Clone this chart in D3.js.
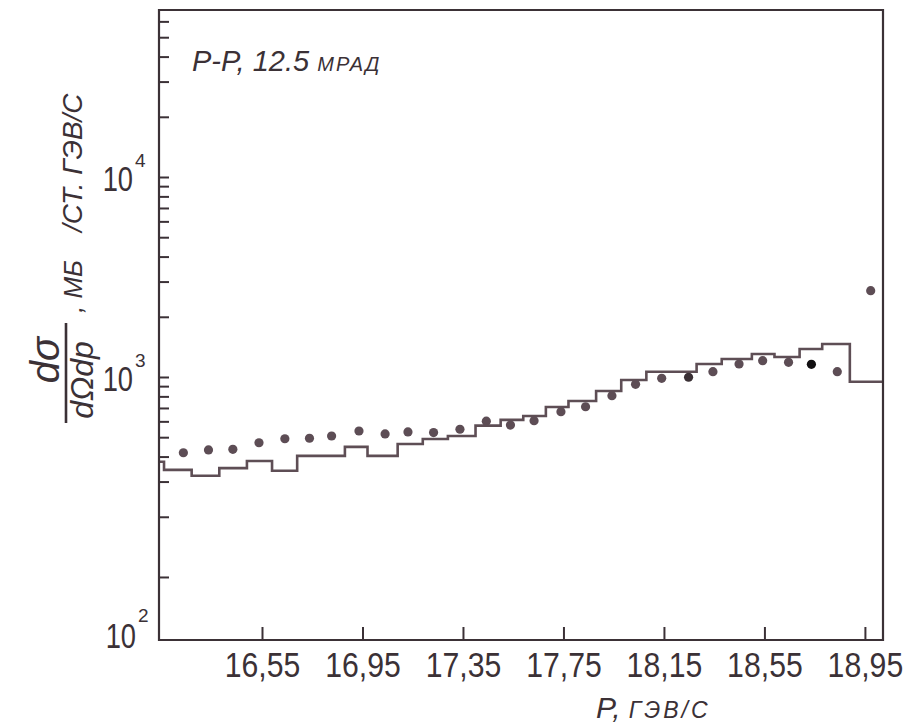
<!DOCTYPE html>
<html>
<head>
<meta charset="utf-8">
<script src="https://cdn.jsdelivr.net/npm/d3@7"></script>
<style>
  body { margin: 0; background: #fff; }
  svg { display: block; }
  .frame { fill: none; stroke: #3b3136; stroke-width: 2.2; }
  .axis line { stroke: #3b3136; stroke-width: 2; }
  .axis path { display: none; }
  .axis text { font-family: "Liberation Sans", Arial, sans-serif; fill: #3b3136; }
  .hist { fill: none; stroke: #5e4e55; stroke-width: 2.6; }
  .lbl { font-family: "Liberation Sans", Arial, sans-serif; fill: #3b3136; font-style: italic; }
  .num { font-family: "Liberation Sans", Arial, sans-serif; fill: #3b3136; }
</style>
</head>
<body>
<script>
// momentum ticks (GeV/c), labels written with decimal comma like the original
const xTickValues = [16.55, 16.95, 17.35, 17.75, 18.15, 18.55, 18.95];
const xTickLabels = ["16,55", "16,95", "17,35", "17,75", "18,15", "18,55", "18,95"];

// log axis minor ticks and the decade labels
const yTickValues = [100, 200, 300, 400, 500, 600, 700, 800, 900,
  1000, 2000, 3000, 4000, 5000, 6000, 7000, 8000, 9000,
  10000, 20000, 30000, 40000, 50000, 60000];
const yDecades = [1000, 10000];
const yDecadeExp = ["3", "4"];

// histogram (calculation): bin edges and heights
const binEdges = [16.14, 16.16, 16.27, 16.38, 16.49, 16.59, 16.69, 16.79, 16.88, 16.97,
  17.09, 17.19, 17.29, 17.40, 17.50, 17.59, 17.68, 17.77, 17.88, 17.98,
  18.08, 18.18, 18.28, 18.38, 18.50, 18.59, 18.69, 18.78, 18.89, 19.02];
const binValues = [377, 343, 321, 350, 380, 340, 403, 403, 447, 403,
  462, 490, 507, 571, 610, 638, 708, 759, 851, 966,
  1063, 1063, 1161, 1230, 1303, 1259, 1380, 1462, 947];

// measured points
const pointP = [16.237, 16.337, 16.434, 16.538, 16.641, 16.739, 16.827, 16.936, 17.040, 17.131,
  17.233, 17.338, 17.443, 17.539, 17.633, 17.740, 17.838, 17.943, 18.037, 18.141,
  18.248, 18.345, 18.449, 18.543, 18.646, 18.737, 18.840, 18.973];
const pointValue = [418, 432, 435, 469, 491, 494, 507, 537, 519, 531,
  527, 548, 601, 575, 605, 671, 710, 806, 919, 985,
  997, 1063, 1161, 1206, 1184, 1157, 1063, 2701];

let W = 907, H = 726;
let margin = {left: 159, right: 883, top: 10, bottom: 640};

let xScale = d3.scaleLinear().domain([16.14, 19.022]).range([margin.left, margin.right]);
let yScale = d3.scaleLog().domain([48.4, 68400]).range([margin.bottom, margin.top]);

let svg = d3.select("body").append("svg")
  .attr("width", W)
  .attr("height", H);

// histogram as step line
let histPts = [];
binValues.forEach(function(v, i) {
  histPts.push([binEdges[i], v]);
  histPts.push([binEdges[i + 1], v]);
});
let histLine = d3.line()
  .x(function(d) { return xScale(d[0]); })
  .y(function(d) { return yScale(d[1]); });

svg.append("path")
  .datum(histPts)
  .attr("class", "hist")
  .attr("d", histLine);

// points
svg.selectAll("circle.pt")
    .data(pointP)
  .enter().append("circle")
    .attr("class", "pt")
    .attr("r", 4.6)
    .attr("cx", function(d) { return xScale(d); })
    .attr("cy", function(d, i) { return yScale(pointValue[i]); })
    .attr("fill", function(d, i) {
      if (i === 25) return "#121012";
      if (i === 20) return "#3a3035";
      return "#5d4d55";
    });

// y axis ticks (inside)
svg.append("g")
  .attr("class", "axis")
  .attr("transform", "translate(" + margin.left + ",0)")
  .call(d3.axisLeft(yScale).tickValues(yTickValues).tickSize(-10).tickFormat(""));

// x axis ticks (inside) with labels
let xAxis = svg.append("g")
  .attr("class", "axis")
  .attr("transform", "translate(0," + margin.bottom + ")")
  .call(d3.axisBottom(xScale)
    .tickValues(xTickValues)
    .tickSize(-13)
    .tickPadding(11)
    .tickFormat(function(d, i) { return xTickLabels[i]; }));
xAxis.selectAll("text")
  .attr("font-size", 36)
  .attr("transform", "scale(0.84,1)");

// frame
svg.append("path")
  .attr("class", "frame")
  .attr("d", "M" + margin.left + "," + margin.top + "V" + margin.bottom +
    "H" + margin.right + "V" + margin.top + "Z");

// decade labels 10^3, 10^4
yDecades.forEach(function(v, i) {
  let yy = yScale(v);
  svg.append("text").attr("class", "num")
    .attr("transform", "translate(133," + (yy + 14) + ") scale(0.78,1)")
    .attr("text-anchor", "end")
    .attr("font-size", 35).text("10");
  svg.append("text").attr("class", "num")
    .attr("x", 135).attr("y", yy - 10)
    .attr("font-size", 19).text(yDecadeExp[i]);
});
// 10^2 sits at the bottom corner in the original
svg.append("text").attr("class", "num")
  .attr("transform", "translate(136," + (margin.bottom + 8) + ") scale(0.78,1)")
  .attr("text-anchor", "end")
  .attr("font-size", 35).text("10");
svg.append("text").attr("class", "num")
  .attr("x", 138).attr("y", margin.bottom - 18)
  .attr("font-size", 19).text("2");

// title inside the plot
let title = svg.append("text").attr("class", "lbl")
  .attr("x", 192).attr("y", 71);
title.append("tspan").attr("font-size", 29).text("P-P, 12.5 ");
title.append("tspan").attr("font-size", 20).attr("letter-spacing", 2).text("МРАД");

// x label
let xl = svg.append("text").attr("class", "lbl")
  .attr("x", 596).attr("y", 718);
xl.append("tspan").attr("font-size", 30).text("P, ");
xl.append("tspan").attr("font-size", 23).attr("letter-spacing", 3).text("ГЭВ/С");

// y label, rotated
let yl = svg.append("g").attr("transform", "translate(66,373) rotate(-90)");
yl.append("line")
  .attr("x1", -50).attr("x2", 50).attr("y1", 0).attr("y2", 0)
  .attr("stroke", "#3b3136").attr("stroke-width", 2.6);
yl.append("text").attr("class", "lbl")
  .attr("x", 13).attr("y", -7).attr("text-anchor", "middle")
  .attr("font-size", 40).text("dσ");
yl.append("text").attr("class", "lbl")
  .attr("x", -7).attr("y", 27).attr("text-anchor", "middle")
  .attr("font-size", 32).text("dΩdp");
yl.append("text").attr("class", "lbl")
  .attr("x", 60).attr("y", 16)
  .attr("font-size", 26).text(", МБ");
yl.append("text").attr("class", "lbl")
  .attr("x", 141).attr("y", 16)
  .attr("font-size", 28).text("/СТ. ГЭВ/С");
</script>
</body>
</html>
